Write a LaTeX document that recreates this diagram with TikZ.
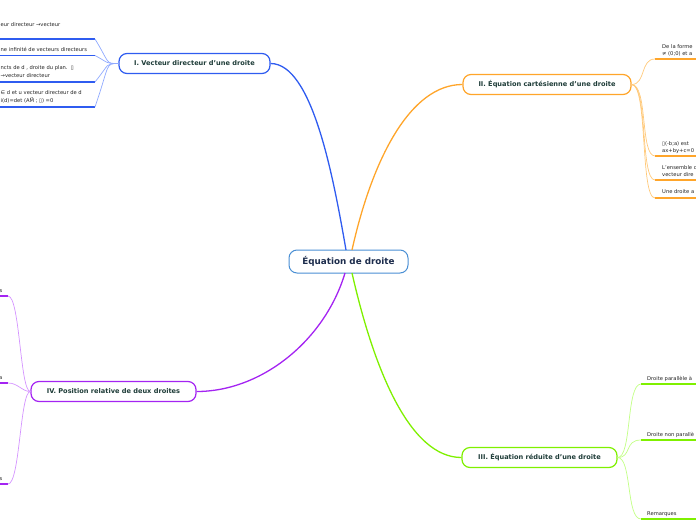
\documentclass[tikz,border=0pt]{standalone}
\usepackage{fontspec}
\setmainfont{DejaVu Sans}
\definecolor{cblue}{HTML}{2F5CF0}
\definecolor{lblue}{HTML}{8FA9FF}
\definecolor{corange}{HTML}{FFA52A}
\definecolor{lorange}{HTML}{FFC97A}
\definecolor{cgreen}{HTML}{7FF000}
\definecolor{lgreen}{HTML}{C2FF85}
\definecolor{cpurple}{HTML}{A424F2}
\definecolor{lpurple}{HTML}{D494FF}
\definecolor{ccenter}{HTML}{4A8FD4}
\definecolor{tdark}{HTML}{1E3C38}
\definecolor{tnavy}{HTML}{1C2C4C}
\definecolor{tchild}{HTML}{222222}
\tikzset{
  centernode/.style={draw=ccenter, line width=1pt, fill=white, rounded corners=8pt,
    minimum width=119pt, minimum height=23pt, inner sep=0pt,
    font=\fontsize{8.8}{10}\selectfont\bfseries, text=tnavy},
  branchnode/.style={line width=1.2pt, fill=white, rounded corners=8pt,
    minimum height=20pt, inner sep=0pt, font=\fontsize{6.6}{8}\selectfont\bfseries, text=tdark},
  childtext/.style={inner sep=0pt, anchor=base west, font=\fontsize{5.2}{7}\selectfont, text=tchild},
  mainlink/.style={line width=1.3pt},
  sublink/.style={line width=0.7pt},
  underl/.style={line width=1.4pt}
}
\begin{document}
\begin{tikzpicture}[x=1pt,y=-1pt]
\useasboundingbox (0,0) rectangle (696,520);

% central and branch nodes
\node[centernode] (C) at (348.5,261.5) {Équation de droite};
\node[branchnode, draw=cblue, minimum width=151pt] (B1) at (194.5,63.5) {I. Vecteur directeur d'une droite};
\node[branchnode, draw=corange, minimum width=168pt] (B2) at (547,84.5) {II. Équation cartésienne d'une droite};
\node[branchnode, draw=cgreen, minimum width=155pt] (B3) at (539.5,457.5) {III. Équation réduite d'une droite};
\node[branchnode, draw=cpurple, minimum width=165pt] (B4) at (113.5,391.5) {IV. Position relative de deux droites};

% main connectors
\coordinate (C1) at (346,250);
\coordinate (C2) at (352,250);
\coordinate (C3) at (352,273);
\coordinate (C4) at (345,273);
\draw[mainlink, cblue] (C1) .. controls (333,175) and (312,63.5) .. (B1.east);
\draw[mainlink, corange] (C2) .. controls (372,160) and (410,84.5) .. (B2.west);
\draw[mainlink, cgreen] (C3) .. controls (374,370) and (410,457.5) .. (B3.west);
\draw[mainlink, cpurple] (C4) .. controls (325,340) and (262,391.5) .. (B4.east);

% ---------- Branch I children ----------
\coordinate (a1s) at (-5,39);  \coordinate (a1e) at (95,39);
\coordinate (a2s) at (-5,55.5);  \coordinate (a2e) at (95,55.5);
\coordinate (a3s) at (-5,82);  \coordinate (a3e) at (95,82);
\coordinate (a4s) at (-5,107); \coordinate (a4e) at (95,107);
\node[childtext] (t1) at (0.5,26) {eur directeur →vecteur};
\node[childtext] (t2) at (0.5,51) {ne infinité de vecteurs directeurs};
\node[childtext] (t3a) at (0.5,69.5) {ncts de d , droite du plan.\ \ ▯};
\node[childtext] (t3b) at (0.5,77) {→vecteur directeur};
\node[childtext] (t4a) at (0.5,94.5) {∈ d et u vecteur directeur de d};
\node[childtext] (t4b) at (0.5,102) {i(d)=det (AM⃗ ; ▯) =0};
\foreach \i in {1,2,3,4}{
  \draw[underl, cblue] (a\i s) -- (a\i e);
  \draw[sublink, lblue] (a\i e) .. controls (110,63.5) and (105,63.5) .. (B1.west);
}

% ---------- Branch II children ----------
\coordinate (b1s) at (655,59);  \coordinate (b1e) at (700,59);
\coordinate (b2s) at (655,156); \coordinate (b2e) at (700,156);
\coordinate (b3s) at (655,180); \coordinate (b3e) at (700,180);
\coordinate (b4s) at (655,198); \coordinate (b4e) at (700,198);
\node[childtext] (u1a) at (662,48) {De la forme};
\node[childtext] (u1b) at (662,55) {≠ (0;0) et a};
\node[childtext] (u2a) at (662,145) {▯(-b;a) est};
\node[childtext] (u2b) at (662,152) {ax+by+c=0};
\node[childtext] (u3a) at (662,169) {L'ensemble d};
\node[childtext] (u3b) at (662,176) {vecteur dire};
\node[childtext] (u4) at (662,193.5) {Une droite a};
\foreach \i in {1,2,3,4}{
  \draw[underl, corange] (b\i s) -- (b\i e);
}
\draw[sublink, lorange] (B2.east) .. controls (646,84.5) and (640,59) .. (b1s);
\draw[sublink, lorange] (B2.east) .. controls (648,84.5) and (640,156) .. (b2s);
\draw[sublink, lorange] (B2.east) .. controls (648,84.5) and (640,180) .. (b3s);
\draw[sublink, lorange] (B2.east) .. controls (648,84.5) and (640,198) .. (b4s);

% ---------- Branch III children ----------
\coordinate (g1s) at (641,384); \coordinate (g1e) at (700,384);
\coordinate (g2s) at (641,440); \coordinate (g2e) at (700,440);
\coordinate (g3s) at (641,519); \coordinate (g3e) at (700,519);
\node[childtext] (v1) at (647,380) {Droite parallèle à};
\node[childtext] (v2) at (647,436) {Droite non parallè};
\node[childtext] (v3) at (647,515) {Remarques};
\foreach \i in {1,2,3}{
  \draw[underl, cgreen] (g\i s) -- (g\i e);
}
\draw[sublink, lgreen] (B3.east) .. controls (632,457.5) and (626,384) .. (g1s);
\draw[sublink, lgreen] (B3.east) .. controls (632,457.5) and (624,440) .. (g2s);
\draw[sublink, lgreen] (B3.east) .. controls (632,457.5) and (626,519) .. (g3s);

% ---------- Branch IV children ----------
\coordinate (p1s) at (-5,296); \coordinate (p1e) at (8,296);
\coordinate (p2s) at (-5,383); \coordinate (p2e) at (8,383);
\coordinate (p3s) at (-5,484); \coordinate (p3e) at (8,484);
\node[childtext, anchor=base east] (w1) at (2.5,292) {s};
\node[childtext, anchor=base east] (w2) at (2.5,379) {a};
\node[childtext, anchor=base east] (w3) at (2.5,480) {s};
\foreach \i in {1,2,3}{
  \draw[underl, cpurple] (p\i s) -- (p\i e);
}
\draw[sublink, lpurple] (B4.west) .. controls (20,391.5) and (20,296) .. (p1e);
\draw[sublink, lpurple] (B4.west) .. controls (22,391.5) and (18,383) .. (p2e);
\draw[sublink, lpurple] (B4.west) .. controls (20,391.5) and (20,484) .. (p3e);
\end{tikzpicture}
\end{document}
